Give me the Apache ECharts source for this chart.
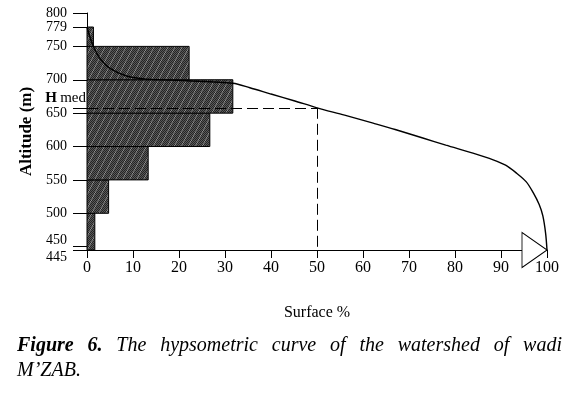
<!DOCTYPE html>
<html>
<head>
<meta charset="utf-8">
<script src="https://cdn.jsdelivr.net/npm/echarts@6/dist/echarts.min.js"></script>
<style>
html,body{margin:0;padding:0;background:#fff;}
#c{width:575px;height:398px;}
</style>
</head>
<body>
<div id="c"></div>
<script>
// ---- data ----
var bandLow  = [445, 500, 550, 600, 650, 700, 750];
var bandHigh = [500, 550, 600, 650, 700, 750, 779];
var bandPct  = [1.7, 4.7, 13.3, 26.7, 31.7, 22.2, 1.4];

var curveSurface  = [0, 0.6, 1.45, 2.8, 5, 8.6, 12.9, 21.6, 31.7, 35.4, 40, 45, 50, 56, 62.2, 67, 73, 78, 83.9, 88.3, 91, 93.3, 95.5, 97, 98.3, 99.1, 99.7, 100];
var curveAltitude = [779, 765, 749, 732, 717, 705.6, 701, 698.6, 694.7, 688, 678.6, 668.6, 658, 647, 635, 625.5, 612.7, 602, 590, 580, 572, 560.5, 547, 530.8, 513, 496, 470, 445];

var yTickValues = [445, 450, 500, 550, 600, 650, 658, 700, 750, 779, 800];
var yLabelValues = [445, 450, 500, 550, 600, 650, 700, 750, 779, 800];
var hMed = 658;
var hMedSurface = 50;
var altMin = 445, altMax = 800;

var FONT = '"Liberation Serif", "Times New Roman", serif';

// hatch pattern (dark dither with faint diagonal streaks)
function makePattern(){
  var s = 14, cv = document.createElement('canvas');
  cv.width = s; cv.height = s;
  var g = cv.getContext('2d');
  for (var y = 0; y < s; y++){
    for (var x = 0; x < s; x++){
      var on = (x + y) % 2 === 0;
      var d = (2 * x + y) % s;
      var stripe = (d === 3 || d === 4);
      var c = on ? (stripe ? '#5e5e5e' : '#252525') : (stripe ? '#8c8c8c' : '#5a5a5a');
      g.fillStyle = c; g.fillRect(x, y, 1, 1);
    }
  }
  return cv;
}
var pat = makePattern();

var barData = bandLow.map(function(l, i){ return [l, bandHigh[i], bandPct[i]]; });
var curveData = curveSurface.map(function(s, i){ return [s, curveAltitude[i]]; });
curveData[curveData.length - 1] = {
  value: curveData[curveData.length - 1],
  symbol: 'path://M0,0L25,17.5L0,35Z',
  symbolSize: [25, 35],
  symbolOffset: [-12.5, 0],
  itemStyle: {color: '#fff', borderColor: '#000', borderWidth: 1}
};

var chart = echarts.init(document.getElementById('c'), null, {renderer: 'canvas'});
chart.setOption({
  animation: false,
  backgroundColor: '#fff',
  grid: {left: 87, right: 28, top: 13, bottom: 148, containLabel: false},
  xAxis: {
    type: 'value', min: 0, max: 100, interval: 10,
    axisLine: {show: true, onZero: false, lineStyle: {color: '#000', width: 1}},
    axisTick: {show: true, inside: false, length: 8, lineStyle: {color: '#000'}},
    splitLine: {show: false},
    axisLabel: {color: '#000', fontFamily: FONT, fontSize: 16, margin: 10, showMinLabel: true, showMaxLabel: true},
    name: 'Surface %', nameLocation: 'middle', nameGap: 55,
    nameTextStyle: {color: '#000', fontFamily: FONT, fontSize: 16}
  },
  yAxis: {
    type: 'value', min: altMin, max: altMax,
    axisLine: {show: true, onZero: false, lineStyle: {color: '#000', width: 1}},
    axisTick: {show: true, length: 14, customValues: yTickValues, lineStyle: {color: '#000'}},
    splitLine: {show: false},
    axisLabel: {
      color: '#000', fontFamily: FONT, fontSize: 14, margin: 20,
      showMinLabel: true, showMaxLabel: true, hideOverlap: false,
      customValues: yLabelValues,
      formatter: function(v){
        if (v === 450) return '{u|450}';
        if (v === 445) return '{d|445}';
        return String(v);
      },
      rich: {
        u: {fontFamily: FONT, fontSize: 14, color: '#000', padding: [0, 0, 12, 0]},
        d: {fontFamily: FONT, fontSize: 14, color: '#000', padding: [14, 0, 0, 0]}
      }
    },
    name: 'Altitude (m)', nameLocation: 'middle', nameGap: 51, nameRotate: 90,
    nameTextStyle: {color: '#000', fontFamily: FONT, fontSize: 17, fontWeight: 'bold'}
  },
  series: [
    {
      type: 'custom',
      data: barData,
      encode: {x: 2, y: [0, 1]},
      z: 2,
      renderItem: function(params, api){
        var p1 = api.coord([0, api.value(1)]);
        var p2 = api.coord([api.value(2), api.value(0)]);
        return {
          type: 'rect',
          shape: {x: p1[0], y: p1[1], width: p2[0] - p1[0], height: p2[1] - p1[1]},
          style: {fill: {image: pat, repeat: 'repeat'}, stroke: '#000', lineWidth: 1}
        };
      }
    },
    {
      type: 'line',
      data: curveData,
      smooth: 0.3,
      symbol: 'none',
      showSymbol: true,
      z: 5,
      clip: false,
      lineStyle: {color: '#000', width: 1.4},
      markLine: {
        silent: true, symbol: 'none',
        label: {show: false},
        lineStyle: {color: '#000', width: 1, type: [11, 5]},
        data: [
          [{coord: [0, hMed]}, {coord: [hMedSurface, hMed]}],
          [{coord: [hMedSurface, hMed]}, {coord: [hMedSurface, altMin]}]
        ]
      }
    }
  ]
});

// H med label & caption
var hp = chart.convertToPixel({gridIndex: 0}, [0, hMed]);

var ctx = document.createElement('canvas').getContext('2d');
var words = [
  {t: 'Figure', b: true}, {t: '6.', b: true}, {t: 'The'}, {t: 'hypsometric'}, {t: 'curve'},
  {t: 'of'}, {t: 'the'}, {t: 'watershed'}, {t: 'of'}, {t: 'wadi'}
];
var capLeft = 17, capRight = 562;
function fontOf(w){ return (w.b ? 'italic bold ' : 'italic ') + '20px "Liberation Serif"'; }
var total = 0;
words.forEach(function(w){ ctx.font = fontOf(w); w.w = ctx.measureText(w.t).width; total += w.w; });
var gap = (capRight - capLeft - total) / (words.length - 1);
var gx = capLeft;
var elems = [];
words.forEach(function(w){
  elems.push({type: 'text', x: gx, y: 356, style: {text: w.t, font: fontOf(w), fill: '#000', align: 'left', verticalAlign: 'bottom'}});
  gx += w.w + gap;
});
elems.push({type: 'text', x: capLeft, y: 381, style: {text: 'M\u2019ZAB.', font: 'italic 20px "Liberation Serif"', fill: '#000', align: 'left', verticalAlign: 'bottom'}});
elems.push({type: 'text', x: hp[0] - 1, y: hp[1] - 2, style: {
  rich: {h: {fontFamily: FONT, fontSize: 15, fontWeight: 'bold', fill: '#000'}, m: {fontFamily: FONT, fontSize: 15, fill: '#000'}},
  text: '{h|H} {m|med}', align: 'right', verticalAlign: 'bottom'
}});
chart.setOption({graphic: {elements: elems}});
</script>
</body>
</html>
